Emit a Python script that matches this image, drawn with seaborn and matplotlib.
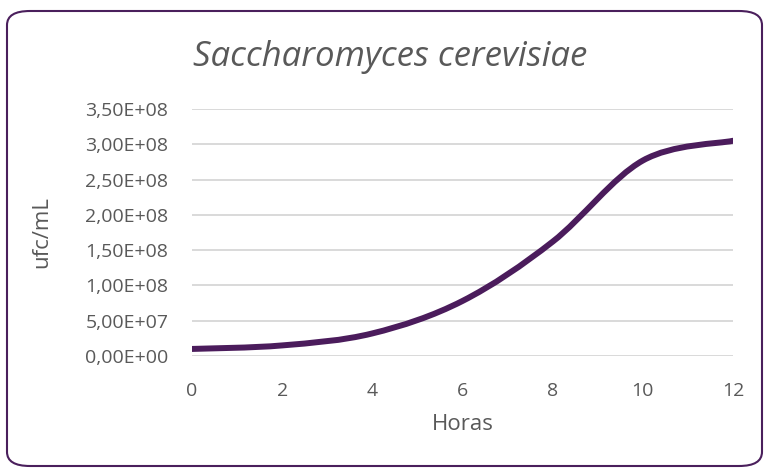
import numpy as np
import pandas as pd
import matplotlib
matplotlib.use("Agg")
import matplotlib.pyplot as plt
import seaborn as sns
from matplotlib.patches import FancyBboxPatch, PathPatch
from matplotlib.path import Path
from matplotlib.ticker import FuncFormatter

# data (even hours, drawn as a smoothed line)
horas = [0, 2, 4, 6, 8, 10, 12]
ufc = [1.0e7, 1.5e7, 3.2e7, 7.8e7, 1.62e8, 2.77e8, 3.05e8]
y_ticks = [0, 5e7, 1e8, 1.5e8, 2e8, 2.5e8, 3e8, 3.5e8]
x_ticks = [0, 2, 4, 6, 8, 10, 12]

df = pd.DataFrame({"Horas": horas, "ufc/mL": ufc})

sns.set_theme(style="white")
plt.rcParams["font.family"] = ["Open Sans", "DejaVu Sans"]

W, H = 767, 469
fig = plt.figure(figsize=(W / 100, H / 100), dpi=100)
fig.patch.set_facecolor("white")

# rounded chart border
border = FancyBboxPatch((7 / W, 3 / H), 755 / W, 455 / H,
                        boxstyle="round,pad=0,rounding_size=0.03",
                        transform=fig.transFigure, facecolor="none",
                        edgecolor="#4a1f5c", linewidth=1.5, zorder=0)
fig.patches.append(border)

ax = fig.add_axes([192 / W, 1 - 356 / H, 541 / W, 247 / H])
ax.set_facecolor("none")

line_color = "#4b1c5c"
sns.lineplot(data=df, x="Horas", y="ufc/mL", ax=ax, color=line_color, linewidth=4.3)

# excel style smoothed line: redraw the seaborn line as bezier segments
line = ax.lines[0]
pts = line.get_xydata()
verts = [pts[0]]
codes = [Path.MOVETO]
n = len(pts)
for i in range(n - 1):
    p0 = pts[i - 1] if i > 0 else pts[i]
    p1 = pts[i]
    p2 = pts[i + 1]
    p3 = pts[i + 2] if i + 2 < n else pts[i + 1]
    verts += [p1 + (p2 - p0) / 6, p2 - (p3 - p1) / 6, p2]
    codes += [Path.CURVE4] * 3
line.set_visible(False)
ax.add_patch(PathPatch(Path(verts, codes), facecolor="none", edgecolor=line_color,
                       linewidth=4.3, capstyle="round", joinstyle="round", zorder=3))

ax.set_xlim(0, 12)
ax.set_ylim(0, 3.5e8)
ax.set_xticks(x_ticks)
ax.set_yticks(y_ticks)
ax.yaxis.set_major_formatter(FuncFormatter(lambda v, p: f"{v:.2E}".replace(".", ",")))

ax.grid(axis="y", color="#d9d9d9", linewidth=1.4)
ax.grid(axis="x", visible=False)
for s in ax.spines.values():
    s.set_visible(False)

gray = "#595959"
ax.tick_params(axis="both", length=0, labelsize=14, colors=gray)
ax.tick_params(axis="y", pad=17)
ax.tick_params(axis="x", pad=19)

ax.set_xlabel("Horas", fontsize=16, color=gray, labelpad=10)
ax.set_ylabel("ufc/mL", fontsize=16, color=gray, labelpad=24)

fig.text(390 / W, 1 - 57 / H, "Saccharomyces cerevisiae", ha="center", va="center",
         fontsize=25, style="italic", color=gray)

fig.savefig("out.png", dpi=100)
